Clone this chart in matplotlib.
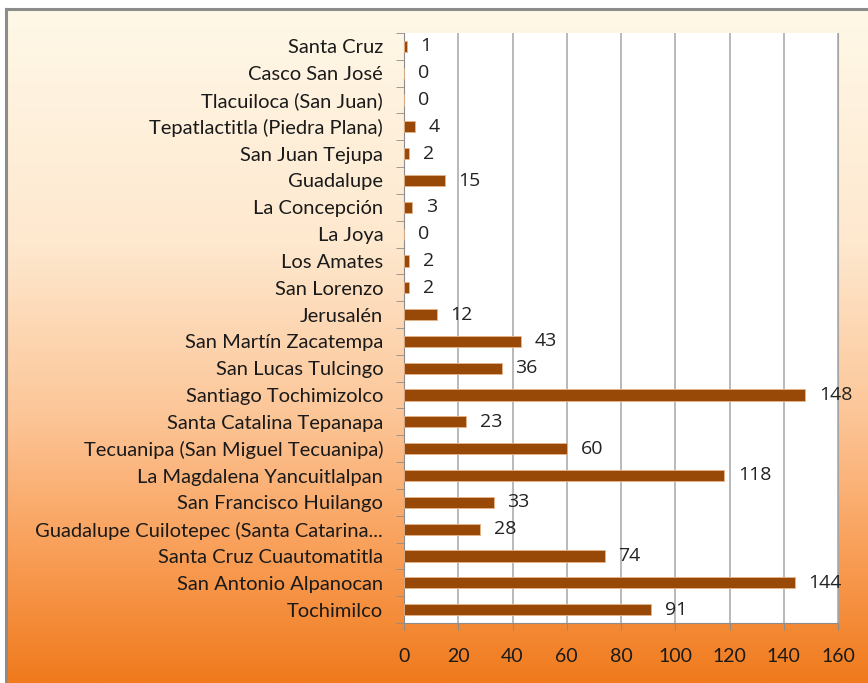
import numpy as np
import matplotlib
matplotlib.use('Agg')
import matplotlib.pyplot as plt
from matplotlib.colors import LinearSegmentedColormap

# datos (de abajo hacia arriba)
localidades = ['Tochimilco', 'San Antonio Alpanocan', 'Santa Cruz Cuautomatitla',
               'Guadalupe Cuilotepec (Santa Catarina...', 'San Francisco Huilango',
               'La Magdalena Yancuitlalpan', 'Tecuanipa (San Miguel Tecuanipa)',
               'Santa Catalina Tepanapa', 'Santiago Tochimizolco', 'San Lucas Tulcingo',
               'San Martín Zacatempa', 'Jerusalén', 'San Lorenzo', 'Los Amates', 'La Joya',
               'La Concepción', 'Guadalupe', 'San Juan Tejupa', 'Tepatlactitla (Piedra Plana)',
               'Tlacuiloca (San Juan)', 'Casco San José', 'Santa Cruz']
valores = [91, 144, 74, 28, 33, 118, 60, 23, 148, 36, 43, 12, 2, 2, 0, 3, 15, 2, 4, 0, 0, 1]
xticks = [0, 20, 40, 60, 80, 100, 120, 140, 160]

W, H = 868, 683
fig = plt.figure(figsize=(W / 100, H / 100), dpi=100)
fig.patch.set_facecolor('white')

# fondo degradado del area del grafico
fx0, fy1 = 6 / W, 1 - 9 / H
bg = fig.add_axes([fx0, 0, 1 - fx0, fy1], zorder=0)
cmap = LinearSegmentedColormap.from_list('fondo', [
    (0.0, '#FFF8E8'), (0.35, '#FEE8CE'), (0.6, '#FCC698'),
    (0.8, '#F9A05A'), (1.0, '#F07A1C')])
grad = np.linspace(0, 1, 256).reshape(-1, 1)
bg.imshow(grad, aspect='auto', cmap=cmap, extent=[0, 1, 0, 1], origin='upper')
bg.set_xlim(0, 1)
bg.set_ylim(0, 1)
bg.set_xticks([])
bg.set_yticks([])
for s in ['right', 'bottom']:
    bg.spines[s].set_visible(False)
for s in ['left', 'top']:
    bg.spines[s].set_color('#8C8C8C')
    bg.spines[s].set_linewidth(2.2)

# area de trazado
ax = fig.add_axes([404 / W, 1 - 623 / H, (838 - 404) / W, (623 - 33) / H], zorder=1)
ax.set_facecolor('white')
y = np.arange(len(localidades))
ax.barh(y, valores, height=0.42, color='#984807', edgecolor='#E8B48A', linewidth=0.6, zorder=3)

for i, v in enumerate(valores):
    ax.annotate(str(v), (v, i), xytext=(10, 0), textcoords='offset points',
                va='center', ha='left', fontsize=14, family='Open Sans',
                color='#222222', zorder=4)

ax.set_xlim(0, 160)
ax.set_ylim(-0.5, len(localidades) - 0.5)
ax.set_xticks(xticks)
ax.set_xticklabels([str(t) for t in xticks], family='Lato', fontsize=14, color='#1a1a1a')
ax.set_yticks(y)
ax.set_yticklabels(localidades, family='Lato', fontsize=14.5, color='#1a1a1a')
ax.set_yticks(np.arange(len(localidades) + 1) - 0.5, minor=True)
ax.tick_params(axis='y', which='major', length=0, pad=15)
ax.tick_params(axis='y', which='minor', length=6, color='#8C8C8C', direction='out')
ax.tick_params(axis='x', which='major', length=5, color='#8C8C8C', pad=13)
ax.grid(axis='x', color='#A6A6A6', linewidth=1.1, zorder=0)
ax.set_axisbelow(True)
ax.spines['top'].set_visible(False)
ax.spines['right'].set_color('#A6A6A6')
ax.spines['left'].set_color('#8C8C8C')
ax.spines['bottom'].set_color('#8C8C8C')

plt.savefig('out.png', dpi=100)
